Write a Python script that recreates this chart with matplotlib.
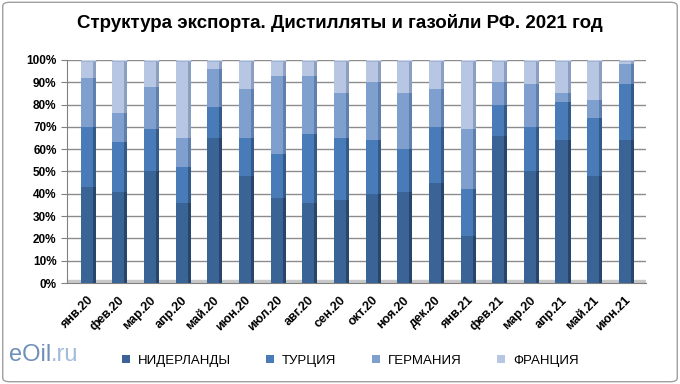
import matplotlib
matplotlib.use("Agg")
import matplotlib.pyplot as plt
import numpy as np
from matplotlib.patches import FancyBboxPatch, Rectangle
from matplotlib.text import Annotation

categories = ["янв.20", "фев.20", "мар.20", "апр.20", "май.20", "июн.20", "июл.20",
              "авг.20", "сен.20", "окт.20", "ноя.20", "дек.20", "янв.21", "фев.21",
              "мар.20", "апр.21", "май.21", "июн.21"]
netherlands = [43, 41, 50, 36, 65, 48, 38, 36, 37, 40, 41, 45, 21, 66, 50, 64, 48, 64]
turkey      = [27, 22, 19, 16, 14, 17, 20, 31, 28, 24, 19, 25, 21, 14, 20, 17, 26, 25]
germany     = [22, 13, 19, 13, 17, 22, 35, 26, 20, 26, 25, 17, 27, 10, 19, 4, 8, 9]
france      = [8, 24, 12, 35, 4, 13, 7, 7, 15, 10, 15, 13, 31, 10, 11, 15, 18, 2]
series_names = ["НИДЕРЛАНДЫ", "ТУРЦИЯ", "ГЕРМАНИЯ", "ФРАНЦИЯ"]
yticks = [0, 10, 20, 30, 40, 50, 60, 70, 80, 90, 100]

colors = ["#3b6496", "#4a7bb9", "#7f9fcf", "#b7c7e3"]
side_colors = ["#28466c", "#345a8a", "#5f7fae", "#8c9fc2"]

plt.rcParams['font.family'] = ['Liberation Sans', 'DejaVu Sans']

fig = plt.figure(figsize=(6.8, 3.84), dpi=100)
fig.patches.append(FancyBboxPatch((0.004, 0.006), 0.992, 0.988,
                                  boxstyle="round,pad=0,rounding_size=0.01",
                                  transform=fig.transFigure, fill=False,
                                  edgecolor="#a0a0a0", linewidth=1.0))

ax = fig.add_axes([0.0985, 0.263, 0.852, 0.581])
x = np.arange(len(categories))
data = [netherlands, turkey, germany, france]
bottom = np.zeros(len(categories))
w = 0.38
sw = 0.1
for vals, c, sc, name in zip(data, colors, side_colors, series_names):
    vals = np.array(vals, dtype=float)
    ax.bar(x + w / 2 + sw / 2, vals, width=sw, bottom=bottom, color=sc,
           edgecolor="none", zorder=3)
    ax.bar(x, vals, width=w, bottom=bottom, color=c, edgecolor="none",
           zorder=4, label=name)
    bottom += vals

# top caps
ax.bar(x + sw / 2, 1.0, width=w + sw, bottom=bottom - 0.5, color="#c9d4e8",
       edgecolor="#8c9fc2", linewidth=0.4, zorder=5)

ax.set_xlim(-0.62, 17.68)
ax.set_ylim(0, 100)
ax.set_yticks(yticks)
ax.set_yticklabels([f"{v}%" for v in yticks], fontsize=8.5, fontweight="bold")
ax.set_xticks(x)
ax.set_xticklabels(categories, rotation=45, ha="right", rotation_mode="anchor",
                   fontsize=9, fontweight="bold")
ax.tick_params(axis="x", length=0, pad=8)
ax.tick_params(axis="y", length=4, color="#808080")
ax.grid(axis="y", color="#8c8c8c", linewidth=1.0, zorder=0)
for s in ["top", "right"]:
    ax.spines[s].set_visible(False)
ax.spines["left"].set_color("#808080")
ax.spines["bottom"].set_color("#808080")
# floor
ax.add_patch(Rectangle((-0.62, 0), 18.3, 1.2, color="#c8c8c8", zorder=2))

fig.text(0.5, 0.94, "Структура экспорта. Дистилляты и газойли РФ. 2021 год",
         ha="center", va="center", fontsize=13.5, fontweight="bold")

handles, labels = ax.get_legend_handles_labels()
leg = fig.legend(handles, labels, loc="center", bbox_to_anchor=(0.515, 0.06),
                 ncol=4, frameon=False, handlelength=0.6,
                 handleheight=0.6, columnspacing=2.7, handletextpad=0.6,
                 prop={'family': ['Liberation Sans Narrow', 'Liberation Sans'],
                       'size': 9.5})

t = fig.text(0.013, 0.075, "eOil", ha="left", va="center", fontsize=17,
             color="#6e8fb8")
fig.add_artist(Annotation(".ru", xy=(1, 0), xycoords=t, va="bottom", ha="left",
                          fontsize=17, color="#a3bbdd"))

fig.savefig("out.png", dpi=100)
